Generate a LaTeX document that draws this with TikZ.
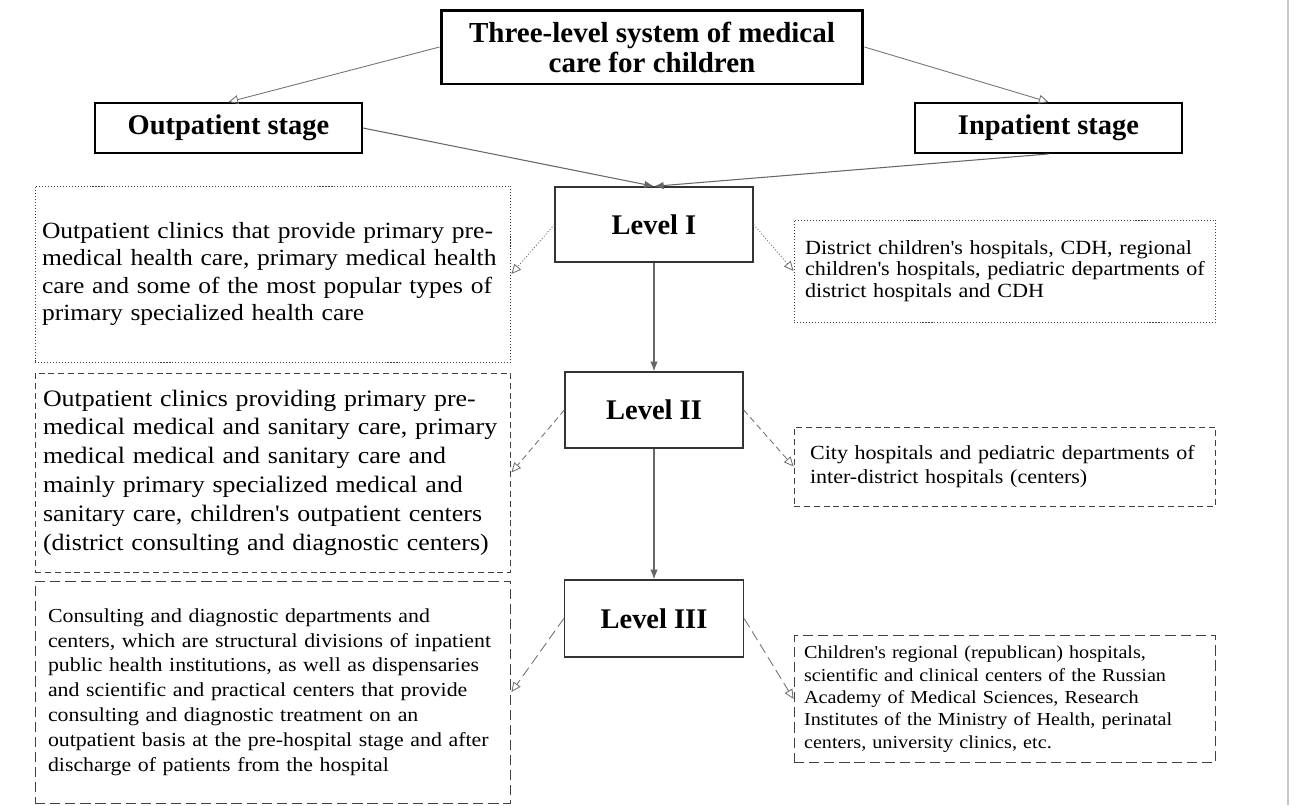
\documentclass[tikz,border=0pt]{standalone}
\usepackage{fontspec}
\setmainfont{Liberation Serif}
\newfontfamily\bodyfont{Liberation Serif}[FakeStretch=1.1]
\usetikzlibrary{arrows.meta}

\begin{document}
\begin{tikzpicture}[x=0.02cm, y=-0.02cm, >=Latex,
        headbox/.style={draw=black, align=center, inner sep=0pt,
            font=\bfseries\fontsize{16.2}{17}\selectfont},
        levelbox/.style={headbox, draw=black!80, line width=0.8pt},
        note/.style={draw=black!75, line width=0.55pt, align=left, inner ysep=0pt},
        dotline/.style={dash pattern=on 0.6pt off 1.1pt},
        shortdash/.style={dash pattern=on 3.4pt off 2.2pt},
        longdash/.style={dash pattern=on 5.8pt off 2.8pt},
        link/.style={draw=black!60, line width=0.6pt, -{Latex[length=5.5pt,width=4.2pt]}},
        openlink/.style={draw=black!55, line width=0.5pt, -{Triangle[open,length=5.5pt,width=5pt]}}]
    \useasboundingbox (0,0) rectangle (1300,805);
    \draw[black!22, line width=0.6pt] (1288,0) -- (1288,805);

    \node[headbox, line width=1.7pt, minimum width=8.44cm, minimum height=1.48cm,
        font=\bfseries\fontsize{16.5}{17}\selectfont] (title) at (652,47)
        {Three-level system of medical\\care for children};
    \node[headbox, line width=1.1pt, minimum width=5.34cm, minimum height=1.0cm] (outp) at (228.5,128) {Outpatient stage};
    \node[headbox, line width=1.1pt, minimum width=5.34cm, minimum height=1.0cm] (inp) at (1048.5,128) {Inpatient stage};

    \node[levelbox, minimum width=3.96cm, minimum height=1.5cm] (lvI) at (654,224.5) {Level I};
    \node[levelbox, minimum width=3.56cm, minimum height=1.52cm] (lvII) at (654,410) {Level II};
    \node[levelbox, minimum width=3.58cm, minimum height=1.54cm] (lvIII) at (654,618.5) {Level III};

    \node[note, dotline, inner xsep=0.14cm, text width=9.24cm, minimum height=3.52cm,
        font=\bodyfont\fontsize{13.2}{15.7}\selectfont] (left1) at (273,274)
        {Outpatient clinics that provide primary pre-\\
         medical health care, primary medical health\\
         care and some of the most popular types of\\
         primary specialized health care};
    \node[note, shortdash, inner xsep=0.16cm, text width=9.2cm, minimum height=3.98cm,
        font=\bodyfont\fontsize{13.4}{16.4}\selectfont] (left2) at (273,472.5)
        {Outpatient clinics providing primary pre-\\
         medical medical and sanitary care, primary\\
         medical medical and sanitary care and\\
         mainly primary specialized medical and\\
         sanitary care, children\textquotesingle s outpatient centers\\
         (district consulting and diagnostic centers)};
    \node[note, longdash, inner xsep=0.26cm, text width=9.0cm, minimum height=4.44cm,
        font=\bodyfont\fontsize{11.3}{14.1}\selectfont] (left3) at (273,692)
        {Consulting and diagnostic departments and\\
         centers, which are structural divisions of inpatient\\
         public health institutions, as well as dispensaries\\
         and scientific and practical centers that provide\\
         consulting and diagnostic treatment on an\\
         outpatient basis at the pre-hospital stage and after\\
         discharge of patients from the hospital};

    \node[note, dotline, inner xsep=0.22cm, text width=8.0cm, minimum height=2.04cm,
        font=\bodyfont\fontsize{11.45}{12.4}\selectfont] (right1) at (1005,271)
        {District children\textquotesingle s hospitals, CDH, regional\\
         children\textquotesingle s hospitals, pediatric departments of\\
         district hospitals and CDH};
    \node[note, shortdash, inner xsep=0.32cm, text width=7.8cm, minimum height=1.58cm,
        font=\bodyfont\fontsize{11.4}{13.5}\selectfont] (right2) at (1005,466.5)
        {City hospitals and pediatric departments of\\
         inter-district hospitals (centers)};
    \node[note, longdash, inner xsep=0.2cm, text width=8.04cm, minimum height=2.54cm,
        font=\bodyfont\fontsize{10.45}{12.7}\selectfont] (right3) at (1005,699)
        {Children\textquotesingle s regional (republican) hospitals,\\
         scientific and clinical centers of the Russian\\
         Academy of Medical Sciences, Research\\
         Institutes of the Ministry of Health, perinatal\\
         centers, university clinics, etc.};

    \draw[openlink] (title.west) -- (outp.north);
    \draw[openlink] (title.east) -- (inp.north);
    \draw[link] (outp.east) -- (lvI.north);
    \draw[link] (inp.south) -- (lvI.north);
    \draw[link] (lvI.south) -- (lvII.north);
    \draw[link] (lvII.south) -- (lvIII.north);
    \foreach \lv/\l/\r/\st in {lvI/left1/right1/dotline, lvII/left2/right2/shortdash, lvIII/left3/right3/longdash}{
        \draw[openlink, \st] (\lv.west) -- (\l.east);
        \draw[openlink, \st] (\lv.east) -- (\r.west);
    }
\end{tikzpicture}
\end{document}
